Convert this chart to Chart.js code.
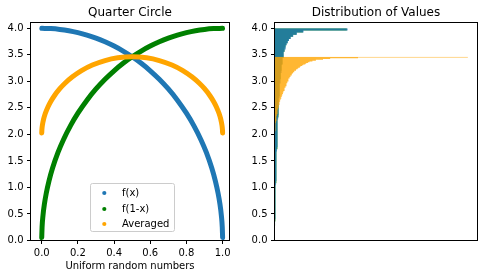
<!DOCTYPE html>
<html>
<head>
<meta charset="utf-8">
<script src="https://cdn.jsdelivr.net/npm/chart.js"></script>
<style>
  html, body { margin: 0; padding: 0; background: #fff; }
  #wrap { position: relative; width: 487px; height: 278px; }
  canvas { position: absolute; top: 0; }
  #left { left: 0; }
  #right { left: 240px; }
</style>
</head>
<body>
<div id="wrap">
  <canvas id="left" width="240" height="278"></canvas>
  <canvas id="right" width="247" height="278"></canvas>
</div>
<script>
// left panel: the three curves
const fxX = [0.0005, 0.05, 0.1, 0.15, 0.2, 0.25, 0.3, 0.35, 0.4, 0.45, 0.5, 0.55, 0.6, 0.65, 0.7, 0.75, 0.8, 0.84, 0.88, 0.91, 0.94, 0.96, 0.975, 0.985, 0.993, 0.998, 0.9999];
const fxY = [4.0, 3.995, 3.98, 3.955, 3.919, 3.873, 3.816, 3.747, 3.666, 3.572, 3.464, 3.34, 3.2, 3.04, 2.857, 2.646, 2.4, 2.17, 1.9, 1.66, 1.365, 1.12, 0.888, 0.69, 0.473, 0.253, 0.057];

const f1xX = [0.0001, 0.002, 0.007, 0.015, 0.025, 0.04, 0.06, 0.09, 0.12, 0.16, 0.2, 0.25, 0.3, 0.35, 0.4, 0.45, 0.5, 0.55, 0.6, 0.65, 0.7, 0.75, 0.8, 0.85, 0.9, 0.95, 0.9995];
const f1xY = [0.057, 0.253, 0.473, 0.69, 0.888, 1.12, 1.365, 1.66, 1.9, 2.17, 2.4, 2.646, 2.857, 3.04, 3.2, 3.34, 3.464, 3.572, 3.666, 3.747, 3.816, 3.873, 3.919, 3.955, 3.98, 3.995, 4.0];

const avgX = [0.0001, 0.001, 0.005, 0.01, 0.02, 0.035, 0.05, 0.07, 0.1, 0.13, 0.17, 0.22, 0.28, 0.35, 0.42, 0.5, 0.58, 0.65, 0.72, 0.78, 0.83, 0.87, 0.9, 0.93, 0.95, 0.965, 0.98, 0.99, 0.995, 0.999, 0.9999];
const avgY = [2.028, 2.089, 2.2, 2.282, 2.398, 2.523, 2.622, 2.73, 2.862, 2.969, 3.086, 3.203, 3.308, 3.393, 3.444, 3.464, 3.444, 3.393, 3.308, 3.203, 3.086, 2.969, 2.862, 2.73, 2.622, 2.523, 2.398, 2.282, 2.2, 2.089, 2.028];

const xTicks = { min: -0.062, max: 1.038, step: 0.2 };
const yTicks = { min: 0, max: 4.11, step: 0.5 };

// right panel: histogram counts, bins from low value to high value
const fxBins = { lo: 0, width: 0.04 };
const fxCounts = [
  0, 1, 1, 1, 2, 1, 2, 2, 3, 2,
  3, 3, 4, 3, 4, 4, 5, 4, 5, 6,
  5, 6, 6, 7, 6, 7, 8, 7, 8, 8,
  9, 8, 9, 10, 9, 10, 11, 10, 11, 12,
  11, 12, 13, 12, 14, 13, 14, 15, 14, 15,
  16, 15, 17, 16, 17, 18, 17, 19, 18, 20,
  19, 21, 20, 22, 21, 23, 22, 24, 25, 24,
  26, 27, 26, 28, 29, 30, 30, 32, 33, 34,
  35, 37, 38, 40, 41, 43, 45, 47, 49, 52,
  55, 59, 63, 69, 75, 84, 97, 116, 150, 378
];
const f1xCounts = [
  0, 1, 0, 2, 1, 2, 1, 3, 2, 3,
  3, 4, 3, 4, 4, 4, 5, 5, 4, 6,
  6, 5, 7, 6, 7, 7, 7, 8, 8, 8,
  9, 9, 8, 10, 9, 10, 10, 11, 11, 11,
  12, 12, 12, 13, 13, 13, 14, 14, 15, 15,
  15, 16, 16, 17, 17, 18, 18, 18, 19, 19,
  20, 20, 21, 21, 22, 22, 23, 23, 24, 24,
  25, 26, 27, 27, 28, 28, 30, 31, 32, 33,
  34, 36, 37, 39, 40, 42, 44, 46, 48, 50,
  53, 57, 61, 67, 73, 82, 95, 113, 147, 374
];
const avgBins = { lo: 2.0, width: 0.014641 };
const avgCounts = [
  2, 1, 3, 2, 4, 3, 3, 5, 4, 6,
  5, 6, 5, 7, 6, 8, 7, 9, 8, 10,
  9, 11, 10, 12, 13, 12, 15, 13, 16, 15,
  18, 17, 19, 18, 21, 20, 23, 22, 25, 24,
  27, 26, 29, 28, 31, 31, 35, 33, 38, 37,
  41, 40, 44, 43, 47, 46, 50, 50, 54, 53,
  57, 57, 60, 60, 64, 63, 67, 66, 70, 70,
  74, 73, 78, 78, 82, 83, 88, 90, 94, 96,
  101, 103, 111, 112, 119, 123, 131, 135, 143, 149,
  159, 164, 173, 181, 196, 214, 251, 288, 432, 1000
];
const countMax = 1050;

const labels = ['f(x)', 'f(1-x)', 'Averaged'];
const colors = ['#1f77b4', '#008000', '#ffa500'];
const histColors = ['rgba(31,119,180,0.8)', 'rgba(0,128,0,0.8)', 'rgba(255,165,0,0.8)'];

Chart.defaults.font.family = "'DejaVu Sans', sans-serif";
Chart.defaults.font.size = 10;
Chart.defaults.color = '#000';

function zip(xs, ys) {
  return xs.map((x, i) => ({ x: x, y: ys[i] }));
}

// outline of a histogram: each bin gives its two edges at its count,
// filled back to zero so the bins make one solid shape (no seams between thin bars)
function histOutline(bins, counts) {
  const pts = [];
  counts.forEach((c, i) => {
    pts.push({ x: c, y: bins.lo + bins.width * i });
    pts.push({ x: c, y: bins.lo + bins.width * (i + 1) });
  });
  return pts;
}

const tickGrid = {
  display: true,
  drawOnChartArea: false,
  drawTicks: true,
  tickLength: 3.5,
  tickColor: '#000',
  tickWidth: 1,
  offset: false
};

const titleOpts = (text) => ({
  display: true,
  text: text,
  fullSize: false,
  font: { size: 12, weight: 'normal' },
  padding: { top: 6, bottom: 2.1 }
});

const framePlugin = {
  id: 'frame',
  afterDraw(chart) {
    const a = chart.chartArea;
    const ctx = chart.ctx;
    ctx.save();
    ctx.strokeStyle = '#000';
    ctx.lineWidth = 1;
    ctx.strokeRect(a.left, a.top, a.right - a.left, a.bottom - a.top);
    ctx.restore();
  }
};

const boxLegendPlugin = {
  id: 'boxLegend',
  afterDatasetsDraw(chart) {
    const ctx = chart.ctx;
    const rows = [193, 209, 224];
    ctx.save();
    ctx.fillStyle = 'rgba(255,255,255,0.8)';
    ctx.strokeStyle = '#cccccc';
    ctx.lineWidth = 1;
    ctx.beginPath();
    if (ctx.roundRect) {
      ctx.roundRect(90.5, 183.5, 84, 48, 2);
    } else {
      ctx.rect(90.5, 183.5, 84, 48);
    }
    ctx.fill();
    ctx.stroke();
    ctx.font = "10px 'DejaVu Sans'";
    ctx.textBaseline = 'middle';
    ctx.textAlign = 'left';
    chart.data.datasets.forEach((ds, i) => {
      ctx.fillStyle = ds.borderColor;
      ctx.beginPath();
      ctx.arc(104.3, rows[i], 2.1, 0, Math.PI * 2);
      ctx.fill();
      ctx.fillStyle = '#000';
      ctx.fillText(ds.label, 122, rows[i]);
    });
    ctx.restore();
  }
};

const curve = (i, xs, ys, order) => ({
  label: labels[i],
  data: zip(xs, ys),
  showLine: true,
  borderColor: colors[i],
  backgroundColor: colors[i],
  borderWidth: 5,
  borderCapStyle: 'round',
  borderJoinStyle: 'round',
  cubicInterpolationMode: 'monotone',
  pointRadius: 0,
  order: order
});

new Chart(document.getElementById('left'), {
  type: 'scatter',
  data: {
    datasets: [
      curve(0, fxX, fxY, 3),
      curve(1, f1xX, f1xY, 2),
      curve(2, avgX, avgY, 1)
    ]
  },
  options: {
    responsive: false,
    animation: false,
    layout: { padding: { left: 0, right: 10.5, top: 0, bottom: 0 } },
    plugins: {
      legend: { display: false },
      tooltip: { enabled: false },
      title: titleOpts('Quarter Circle')
    },
    scales: {
      x: {
        type: 'linear',
        min: xTicks.min,
        max: xTicks.max,
        afterFit: (s) => { s.height = 37.5; },
        grid: tickGrid,
        border: { display: false },
        ticks: { stepSize: xTicks.step, includeBounds: false, padding: 3.5, maxRotation: 0, callback: (v) => v.toFixed(1) },
        title: { display: true, text: 'Uniform random numbers', padding: { top: 0, bottom: 5.5 } }
      },
      y: {
        type: 'linear',
        min: yTicks.min,
        max: yTicks.max,
        afterFit: (s) => { s.width = 30.5; },
        grid: tickGrid,
        border: { display: false },
        ticks: { stepSize: yTicks.step, includeBounds: false, padding: 3.5, callback: (v) => v.toFixed(1) }
      }
    }
  },
  plugins: [framePlugin, boxLegendPlugin]
});

const hist = (i, bins, counts, order) => ({
  label: labels[i],
  data: histOutline(bins, counts),
  fill: 'origin',
  backgroundColor: histColors[i],
  borderColor: 'rgba(0,0,0,0)',
  borderWidth: 0,
  pointRadius: 0,
  tension: 0,
  order: order
});

new Chart(document.getElementById('right'), {
  type: 'line',
  data: {
    datasets: [
      hist(0, fxBins, fxCounts, 2),
      hist(1, fxBins, f1xCounts, 3),
      hist(2, avgBins, avgCounts, 1)
    ]
  },
  options: {
    indexAxis: 'y',
    responsive: false,
    animation: false,
    layout: { padding: { left: 0, right: 9.5, top: 0, bottom: 37.5 } },
    plugins: {
      legend: { display: false },
      tooltip: { enabled: false },
      title: titleOpts('Distribution of Values')
    },
    scales: {
      x: { type: 'linear', min: 0, max: countMax, display: false },
      y: {
        type: 'linear',
        min: yTicks.min,
        max: yTicks.max,
        offset: false,
        afterFit: (s) => { s.width = 34.5; },
        grid: tickGrid,
        border: { display: false },
        ticks: { stepSize: yTicks.step, includeBounds: false, padding: 3.5, callback: (v) => v.toFixed(1) }
      }
    }
  },
  plugins: [framePlugin]
});
</script>
</body>
</html>
